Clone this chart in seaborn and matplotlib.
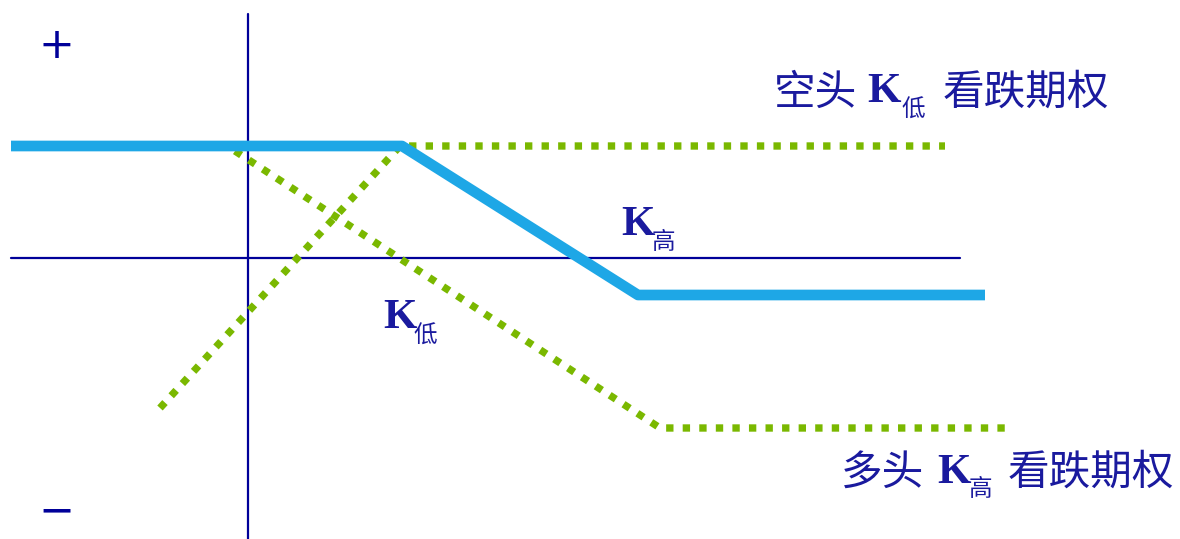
import matplotlib
matplotlib.use("Agg")
import matplotlib.pyplot as plt
import seaborn as sns
import pandas as pd

# payoff lines (price on x, profit on y; origin where the axes cross)
spread_x = [-23.7, 15.4, 39.0, 73.7]
spread_y = [11.2, 11.2, -3.7, -3.7]

short_put_x = [-8.8, 15.2, 69.7]
short_put_y = [-15.0, 11.2, 11.2]

long_put_x = [-1.3, 41.2, 75.7]
long_put_y = [10.7, -17.0, -17.0]

# axes drawn as lines
h_axis_x = [-23.7, 71.2]
v_axis_y = [-28.1, 24.4]

navy = "#000099"
text_navy = "#1A1A9E"
blue = "#1EA7E6"
green = "#7AB800"

sns.set_theme(style="white")
plt.rcParams['font.family'] = ['Noto Sans CJK SC', 'DejaVu Sans']

fig = plt.figure(figsize=(11.8, 5.39), dpi=100)
ax = fig.add_axes([0, 0, 1, 1])

spread = pd.DataFrame({"x": spread_x, "y": spread_y})
short_put = pd.DataFrame({"x": short_put_x, "y": short_put_y})
long_put = pd.DataFrame({"x": long_put_x, "y": long_put_y})

# axis lines
ax.plot(h_axis_x, [0, 0], color=navy, lw=1.6, zorder=1)
ax.plot([0, 0], v_axis_y, color=navy, lw=1.6, zorder=1)

for df in (short_put, long_put):
    sns.lineplot(data=df, x="x", y="y", sort=False, estimator=None,
                 color=green, lw=5.3, ax=ax, zorder=2)
    ax.lines[-1].set_dashes((1.0, 1.25))
    ax.lines[-1].set_dash_capstyle("butt")

sns.lineplot(data=spread, x="x", y="y", sort=False, estimator=None,
             color=blue, lw=7.7, ax=ax, zorder=3)
ax.lines[-1].set_solid_capstyle("butt")

ax.set_xlim(-24.8, 93.2)
ax.set_ylim(-28.1, 25.8)
ax.axis("off")

cjk = ['Noto Sans CJK SC', 'DejaVu Sans']
serif = ['Liberation Serif', 'DejaVu Serif']


def put(px, base, s, size, fam, weight="normal"):
    # px / base are picture positions converted into data units
    ax.text((px - 248) / 10, (258 - base) / 10, s, fontsize=size,
            family=fam, color=text_navy, ha="left", va="baseline",
            weight=weight)


# plus / minus signs
ax.text(-19.2, 21.2, "+", fontsize=31, family="DejaVu Sans", color=navy,
        ha="center", va="center")
ax.text(-19.2, -25.3, "−", fontsize=31, family="DejaVu Sans", color=navy,
        ha="center", va="center")

# short put label
put(774, 105, "空头", 30, cjk)
put(867, 102, "K", 31, serif, "bold")
put(901, 117, "低", 17, cjk)
put(943, 105, "看跌期权", 30, cjk)

# strike labels
put(621, 235, "K", 31, serif, "bold")
put(652, 249, "高", 17, cjk)
put(383, 328, "K", 31, serif, "bold")
put(413, 343, "低", 17, cjk)

# long put label
put(841, 485, "多头", 30, cjk)
put(937, 483, "K", 31, serif, "bold")
put(969, 496, "高", 17, cjk)
put(1008, 485, "看跌期权", 30, cjk)

fig.savefig("out.png", dpi=100)
